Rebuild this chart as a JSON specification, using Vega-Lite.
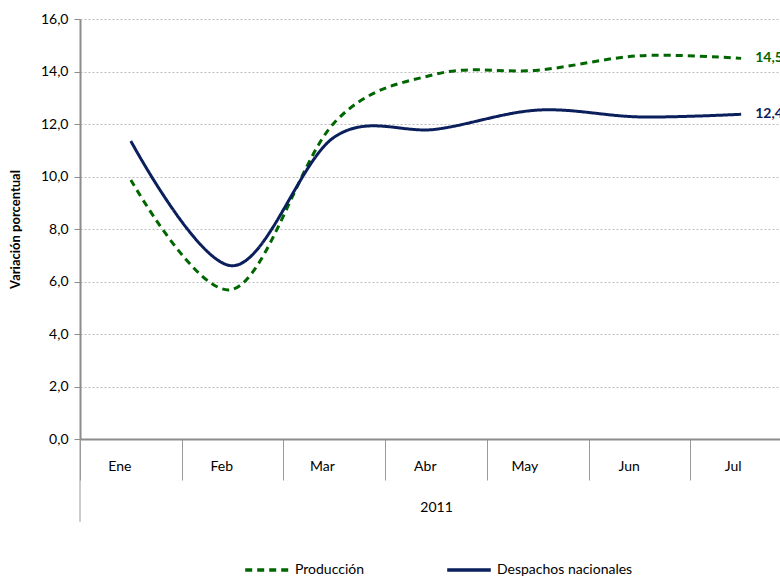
{
  "$schema": "https://vega.github.io/schema/vega-lite/v6.json",
  "autosize": "none",
  "width": 700,
  "height": 420,
  "padding": {"left": 80, "top": 19, "right": 0, "bottom": 137},
  "background": "white",
  "config": {
    "view": {"stroke": null},
    "font": "Lato",
    "locale": {"number": {"decimal": ",", "thousands": ".", "grouping": [3], "currency": ["", " €"]}}
  },
  "data": {
    "values": [
      {"mes": "Ene", "serie": "Producción", "valor": 9.87},
      {"mes": "Feb", "serie": "Producción", "valor": 5.7},
      {"mes": "Mar", "serie": "Producción", "valor": 12.05},
      {"mes": "Abr", "serie": "Producción", "valor": 13.9},
      {"mes": "May", "serie": "Producción", "valor": 14.05},
      {"mes": "Jun", "serie": "Producción", "valor": 14.6},
      {"mes": "Jul", "serie": "Producción", "valor": 14.5},
      {"mes": "Ene", "serie": "Despachos nacionales", "valor": 11.35},
      {"mes": "Feb", "serie": "Despachos nacionales", "valor": 6.6},
      {"mes": "Mar", "serie": "Despachos nacionales", "valor": 11.5},
      {"mes": "Abr", "serie": "Despachos nacionales", "valor": 11.8},
      {"mes": "May", "serie": "Despachos nacionales", "valor": 12.53},
      {"mes": "Jun", "serie": "Despachos nacionales", "valor": 12.27},
      {"mes": "Jul", "serie": "Despachos nacionales", "valor": 12.37}
    ]
  },
  "layer": [
    {
      "mark": {"type": "rule", "color": "#9a9a9a", "strokeWidth": 1, "clip": false},
      "transform": [{"filter": "datum.mes === 'Ene' && datum.serie === 'Producción'"}],
      "encoding": {
        "x": {"field": "mes", "type": "ordinal", "bandPosition": 0, "sort": ["Ene","Feb","Mar","Abr","May","Jun","Jul"]},
        "y": {"datum": 0},
        "y2": {"datum": -3.16}
      }
    },
    {
      "mark": {"type": "line", "interpolate": "cardinal", "strokeWidth": 3},
      "encoding": {
        "x": {
          "field": "mes", "type": "ordinal",
          "sort": ["Ene","Feb","Mar","Abr","May","Jun","Jul"],
          "scale": {"range": [0, 712], "paddingInner": 0, "paddingOuter": 0},
          "axis": {
            "title": "2011",
            "titleFont": "Lato", "titleFontWeight": "normal", "titleFontSize": 14, "titleColor": "#000",
            "titleY": 68, "titleBaseline": "middle",
            "labelAngle": 0, "labelFontSize": 14, "labelColor": "#000",
            "tickBand": "extent", "tickSize": 41, "tickColor": "#9a9a9a", "tickWidth": 1,
            "labelPadding": -14,
            "domainColor": "#8c8c8c", "domainWidth": 2,
            "grid": false
          }
        },
        "y": {
          "field": "valor", "type": "quantitative",
          "scale": {"domain": [0, 16], "nice": false},
          "axis": {
            "title": "Variación porcentual",
            "titleFontSize": 13, "titleFontWeight": "bold", "titleColor": "#000",
            "titleX": -65, "titleY": 210, "titleAlign": "center", "titleBaseline": "middle", "titleAngle": -90,
            "values": [0,2,4,6,8,10,12,14,16], "format": ".1f",
            "labelFontSize": 14, "labelColor": "#000", "labelPadding": 6,
            "tickSize": 6, "tickColor": "#8c8c8c",
            "domainColor": "#8c8c8c", "domainWidth": 2,
            "grid": true, "gridDash": [2, 2], "gridColor": "#bdbdbd", "gridWidth": 1
          }
        },
        "color": {
          "field": "serie", "type": "nominal",
          "scale": {"domain": ["Producción", "Despachos nacionales"], "range": ["#006600", "#0a1f5c"]},
          "legend": {
            "title": null, "orient": "none", "direction": "horizontal",
            "legendX": 163, "legendY": 527,
            "symbolType": "stroke", "symbolSize": 1900, "symbolStrokeWidth": 3.5,
            "labelFontSize": 14, "labelColor": "#000", "labelOffset": 4, "columnPadding": 75
          }
        },
        "strokeDash": {
          "field": "serie", "type": "nominal",
          "scale": {"domain": ["Producción", "Despachos nacionales"], "range": [[7, 5], [1, 0]]},
          "legend": null
        }
      }
    },
    {
      "mark": {"type": "text", "align": "left", "dx": 14, "fontWeight": "bold", "fontSize": 14, "baseline": "middle"},
      "transform": [{"filter": "datum.mes === 'Jul'"}],
      "encoding": {
        "x": {"field": "mes", "type": "ordinal", "sort": ["Ene","Feb","Mar","Abr","May","Jun","Jul"]},
        "y": {"field": "valor", "type": "quantitative"},
        "text": {"field": "valor", "type": "quantitative", "format": ".1f"},
        "color": {"field": "serie", "type": "nominal", "legend": null}
      }
    }
  ]
}
